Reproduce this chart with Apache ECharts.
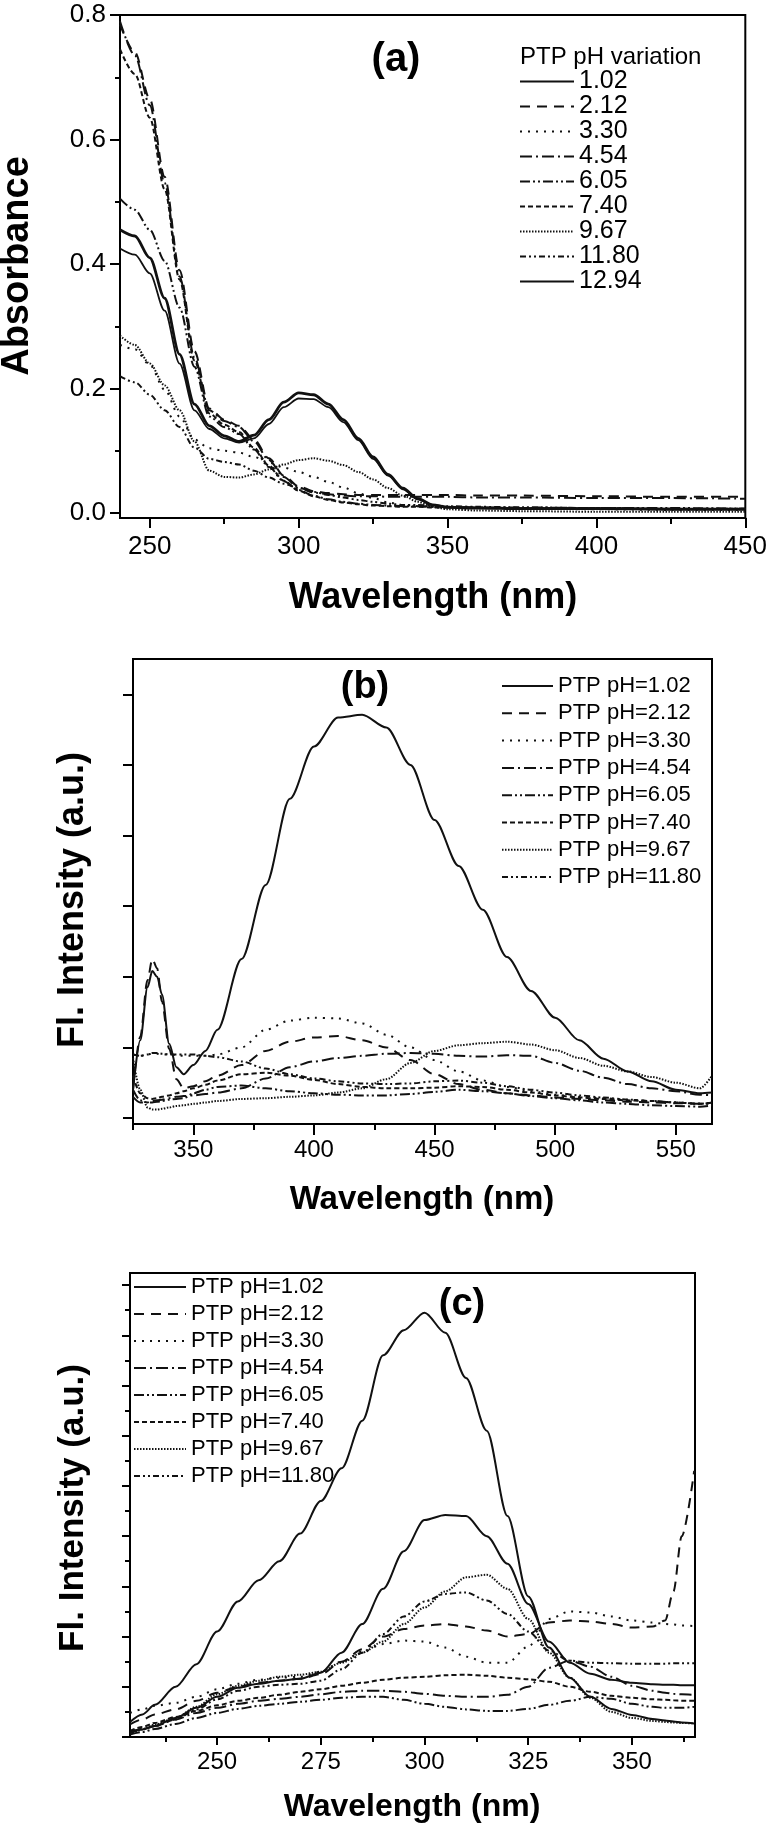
<!DOCTYPE html>
<html>
<head>
<meta charset="utf-8">
<script src="https://cdn.jsdelivr.net/npm/echarts@6/dist/echarts.min.js"></script>
<style>
html,body{margin:0;padding:0;background:#fff;}
#main{width:770px;height:1833px;}
</style>
</head>
<body>
<div id="main"></div>
<script>
// (a) absorbance vs wavelength, PTP at different pH
var aWave = [240,245,250,255,260,265,270,275,280,285,290,295,300,305,310,315,320,325,330,335,340,345,350,360,375,400,425,450];
var a102  = [0.455,0.445,0.41,0.345,0.255,0.175,0.14,0.124,0.115,0.125,0.15,0.178,0.193,0.19,0.175,0.15,0.12,0.09,0.062,0.04,0.023,0.013,0.009,0.008,0.007,0.007,0.006,0.006];
var a212  = [0.785,0.74,0.665,0.54,0.39,0.26,0.168,0.15,0.14,0.118,0.088,0.06,0.043,0.035,0.032,0.03,0.029,0.029,0.029,0.029,0.029,0.029,0.029,0.028,0.028,0.027,0.026,0.026];
var a330  = [0.27,0.263,0.238,0.198,0.155,0.118,0.104,0.1,0.097,0.09,0.081,0.073,0.066,0.058,0.05,0.041,0.032,0.024,0.017,0.013,0.011,0.01,0.009,0.008,0.007,0.006,0.005,0.005];
var a454  = [0.79,0.735,0.655,0.53,0.38,0.25,0.165,0.148,0.138,0.115,0.085,0.058,0.041,0.033,0.03,0.028,0.027,0.027,0.026,0.026,0.026,0.026,0.026,0.025,0.025,0.024,0.024,0.023];
var a605  = [0.505,0.487,0.455,0.405,0.33,0.235,0.155,0.138,0.127,0.102,0.074,0.051,0.037,0.028,0.022,0.018,0.015,0.013,0.012,0.011,0.011,0.01,0.01,0.009,0.009,0.008,0.008,0.007];
var a740  = [0.745,0.705,0.635,0.52,0.375,0.245,0.16,0.142,0.13,0.105,0.076,0.052,0.036,0.027,0.021,0.017,0.014,0.012,0.011,0.01,0.01,0.009,0.009,0.008,0.008,0.007,0.006,0.006];
var a967  = [0.285,0.27,0.24,0.205,0.165,0.115,0.068,0.058,0.057,0.062,0.07,0.078,0.085,0.088,0.084,0.077,0.066,0.054,0.04,0.028,0.018,0.01,0.006,0.004,0.003,0.002,0.002,0.002];
var a1180 = [0.22,0.21,0.19,0.165,0.138,0.105,0.087,0.082,0.078,0.068,0.057,0.047,0.04,0.034,0.029,0.025,0.021,0.018,0.015,0.013,0.013,0.012,0.011,0.01,0.009,0.008,0.007,0.007];
var a1294 = [0.425,0.415,0.385,0.325,0.24,0.165,0.135,0.12,0.113,0.12,0.143,0.17,0.184,0.183,0.17,0.146,0.117,0.087,0.06,0.038,0.022,0.013,0.01,0.009,0.008,0.008,0.007,0.007];
var aNames = ['1.02','2.12','3.30','4.54','6.05','7.40','9.67','11.80','12.94'];
var aXMajor = [250,300,350,400,450];
var aXMinor = [275,325,375,425];
var aYMajor = [0,0.2,0.4,0.6,0.8];
var aYMinor = [0.1,0.3,0.5,0.7];

// (b) fluorescence, excitation 1
var bWave = [325,328,331,333,335,337,340,343,346,350,355,360,370,380,390,400,410,420,430,440,450,460,470,480,490,500,510,520,530,540,550,560,565];
var b102  = [40,110,185,208,200,175,105,72,62,75,95,125,225,330,452,526,567,571,553,500,422,357,295,228,180,142,110,84,66,52,40,35,36];
var b212  = [40,115,195,225,212,165,98,55,42,45,52,60,75,95,108,114,116,110,100,82,62,48,40,35,32,29,27,25,23,22,21,20,22];
var b330  = [90,88,90,91,91,90,90,89,88,88,88,90,100,125,138,142,141,134,118,100,82,66,53,44,38,33,30,28,26,24,22,20,20];
var b454  = [30,22,22,24,25,26,28,30,31,32,34,36,42,56,72,80,85,88,91,92,91,88,87,89,88,78,67,57,48,42,38,33,32];
var b605  = [40,25,22,22,23,24,26,27,28,35,40,44,46,42,38,35,33,32,32,34,37,40,38,35,31,28,25,22,20,18,17,16,18];
var b740  = [60,35,28,27,28,30,32,35,38,42,47,53,62,64,60,54,48,44,42,42,43,45,44,40,36,32,29,27,25,24,22,20,22];
var b967  = [85,40,15,12,12,13,15,17,18,20,22,24,27,28,30,32,36,42,55,78,95,103,106,108,104,96,85,74,66,58,50,42,60];
var b1180 = [90,88,90,92,92,91,90,90,90,90,88,86,80,70,62,56,52,49,48,49,52,53,50,45,40,36,32,29,26,24,22,20,22];
var bNames = ['PTP pH=1.02','PTP pH=2.12','PTP pH=3.30','PTP pH=4.54','PTP pH=6.05','PTP pH=7.40','PTP pH=9.67','PTP pH=11.80'];
var bXMajor = [350,400,450,500,550];
var bXMinor = [325,375,425,475,525];
var bYTicks = [0,100,200,300,400,500,600];

// (c) fluorescence, excitation 2
var cWave = [229,232,235,240,245,250,255,260,265,270,275,280,285,290,295,300,305,310,315,320,325,330,335,340,345,350,355,358,360,362,365];
var c102  = [30,45,64,100,145,210,270,312,350,405,470,535,630,760,810,845,805,715,610,440,280,178,118,80,56,44,36,33,31,29,27];
var c212  = [25,35,45,55,72,88,100,108,112,116,125,150,175,200,215,222,225,220,212,200,205,228,232,230,225,218,220,232,290,400,530];
var c330  = [48,55,62,68,80,95,106,114,118,120,130,150,170,185,192,190,178,160,148,148,180,235,250,248,240,232,228,225,224,222,221];
var c454  = [10,16,22,35,48,58,66,72,76,80,85,90,92,92,90,86,82,80,80,84,100,138,152,140,120,102,92,88,86,85,84];
var c605  = [5,10,16,26,38,48,56,62,66,70,74,78,80,80,74,66,60,55,52,52,56,64,72,80,76,66,60,58,58,58,60];
var c740  = [12,20,28,40,52,63,72,78,84,90,95,102,108,114,118,120,123,124,122,118,115,110,100,90,82,78,75,74,73,72,72];
var c967  = [5,15,25,38,60,85,102,112,120,124,130,148,168,190,225,258,290,318,323,295,235,168,118,78,50,38,32,30,29,28,27];
var c1180 = [10,16,22,35,55,75,92,100,104,106,112,135,168,205,240,270,285,288,272,245,210,172,152,148,147,146,146,146,147,147,147];
var c1294 = [8,15,22,38,58,80,98,106,112,116,128,168,225,295,370,432,442,440,400,345,265,190,148,126,114,108,105,104,104,103,103];
var cXMajor = [250,275,300,325,350];
var cXMinor = [237.5,262.5,287.5,312.5,337.5,362.5];
var cYMajor = [0,100,200,300,400,500,600,700,800,900];
var cYMinor = [50,150,250,350,450,550,650,750,850];

var FONT = '"Liberation Sans", Arial, sans-serif';
var INK = '#111';

// line patterns, one per pH
var DASH = {
    solid: 'solid',
    dashed: [10, 7],
    dotted: [2, 6],
    dashdot: [12, 4, 2, 4],
    dashdotdot: [10, 3, 2, 3, 2, 3],
    shortdash: [5, 3],
    finedot: [1.5, 1.5],
    dashdotdot2: [6, 3, 2, 3, 2, 3]
};

function pairs(xs, ys) {
    var out = [];
    for (var i = 0; i < xs.length; i++) {
        out.push([xs[i], ys[i]]);
    }
    return out;
}

function line(name, panel, xs, ys, dash, width) {
    return {
        name: name,
        type: 'line',
        xAxisIndex: panel * 2,
        yAxisIndex: panel * 2,
        data: pairs(xs, ys),
        symbol: 'none',
        smooth: 0.3,
        smoothMonotone: 'x',
        lineStyle: {color: INK, width: width || 2, type: dash},
        itemStyle: {color: INK},
        emphasis: {disabled: true}
    };
}

function xAxes(grid, min, max, major, minor, fs, margin, majLen, minLen) {
    return [{
        type: 'value', gridIndex: grid, min: min, max: max, position: 'bottom',
        axisLine: {onZero: false, lineStyle: {color: '#000', width: 2}},
        axisTick: {customValues: major, length: majLen, lineStyle: {color: '#000', width: 2}},
        axisLabel: {customValues: major, color: '#000', fontSize: fs, fontFamily: FONT, margin: margin},
        splitLine: {show: false}
    }, {
        type: 'value', gridIndex: grid, min: min, max: max, position: 'bottom',
        axisLine: {show: false, onZero: false},
        axisTick: {customValues: minor, length: minLen, lineStyle: {color: '#000', width: 2}},
        axisLabel: {show: false},
        splitLine: {show: false}
    }];
}

function yAxes(grid, min, max, major, minor, labels, fs, margin, majLen, minLen) {
    var main = {
        type: 'value', gridIndex: grid, min: min, max: max, position: 'left',
        axisLine: {onZero: false, lineStyle: {color: '#000', width: 2}},
        axisTick: {customValues: major, length: majLen, lineStyle: {color: '#000', width: 2}},
        axisLabel: labels ? {customValues: major, color: '#000', fontSize: fs, fontFamily: FONT, margin: margin,
            formatter: function (v) { return v.toFixed(1); }} : {show: false},
        splitLine: {show: false}
    };
    var sub = {
        type: 'value', gridIndex: grid, min: min, max: max, position: 'left',
        axisLine: {show: false, onZero: false},
        axisTick: minor ? {customValues: minor, length: minLen, lineStyle: {color: '#000', width: 2}} : {show: false},
        axisLabel: {show: false},
        splitLine: {show: false}
    };
    return [main, sub];
}

function legend(names, left, top, w, fs, gap) {
    return {
        data: names, orient: 'vertical', left: left, top: top, padding: 0,
        itemWidth: w, itemHeight: 12, itemGap: gap, selectedMode: false,
        itemStyle: {opacity: 0, borderWidth: 0},
        textStyle: {color: '#000', fontSize: fs, fontFamily: FONT, lineHeight: fs}
    };
}

function txt(s, x, y, font, rot, align) {
    return {
        type: 'text', x: x, y: y, rotation: rot || 0, silent: true,
        style: {
            text: s, font: font, fill: '#000',
            align: align || 'center', verticalAlign: 'middle',
            textAlign: align || 'center', textVerticalAlign: 'middle'
        }
    };
}

var series = [
    line('1.02', 0, aWave, a102, DASH.solid, 2.8),
    line('2.12', 0, aWave, a212, DASH.dashed),
    line('3.30', 0, aWave, a330, DASH.dotted),
    line('4.54', 0, aWave, a454, DASH.dashdot),
    line('6.05', 0, aWave, a605, DASH.dashdotdot),
    line('7.40', 0, aWave, a740, DASH.shortdash),
    line('9.67', 0, aWave, a967, DASH.finedot),
    line('11.80', 0, aWave, a1180, DASH.dashdotdot2),
    line('12.94', 0, aWave, a1294, DASH.solid, 1.8),

    line(bNames[0], 1, bWave, b102, DASH.solid),
    line(bNames[1], 1, bWave, b212, DASH.dashed),
    line(bNames[2], 1, bWave, b330, DASH.dotted),
    line(bNames[3], 1, bWave, b454, DASH.dashdot),
    line(bNames[4], 1, bWave, b605, DASH.dashdotdot),
    line(bNames[5], 1, bWave, b740, DASH.shortdash),
    line(bNames[6], 1, bWave, b967, DASH.finedot),
    line(bNames[7], 1, bWave, b1180, DASH.dashdotdot2),

    line(bNames[0], 2, cWave, c102, DASH.solid),
    line(bNames[1], 2, cWave, c212, DASH.dashed),
    line(bNames[2], 2, cWave, c330, DASH.dotted),
    line(bNames[3], 2, cWave, c454, DASH.dashdot),
    line(bNames[4], 2, cWave, c605, DASH.dashdotdot),
    line(bNames[5], 2, cWave, c740, DASH.shortdash),
    line(bNames[6], 2, cWave, c967, DASH.finedot),
    line(bNames[7], 2, cWave, c1180, DASH.dashdotdot2),
    line('PTP pH=12.94', 2, cWave, c1294, DASH.solid)
];

var gridStyle = {show: true, borderColor: '#000', borderWidth: 2, backgroundColor: 'transparent'};

var option = {
    animation: false,
    backgroundColor: '#fff',
    grid: [
        Object.assign({left: 120, top: 15, width: 626, height: 503}, gridStyle),
        Object.assign({left: 133, top: 659, width: 579, height: 465}, gridStyle),
        Object.assign({left: 130, top: 1273, width: 565, height: 464}, gridStyle)
    ],
    xAxis: [].concat(
        xAxes(0, 240, 450, aXMajor, aXMinor, 26, 16, 10, 6),
        xAxes(1, 325, 565, bXMajor, bXMinor, 24, 14, 11, 6),
        xAxes(2, 229, 365.2, cXMajor, cXMinor, 24, 13, 8, 5)
    ),
    yAxis: [].concat(
        yAxes(0, -0.008, 0.8, aYMajor, aYMinor, true, 26, 14, 10, 5),
        yAxes(1, -8.5, 650, bYTicks, null, false, 0, 0, 10, 0),
        yAxes(2, 0, 924, cYMajor, cYMinor, false, 0, 0, 8, 5)
    ),
    legend: [
        legend(aNames, 519, 69, 54, 25, 0),
        legend(bNames, 501, 675, 51, 22, 5.3),
        legend(bNames, 133, 1276, 52, 22, 5)
    ],
    graphic: {elements: [
        txt('(a)', 396, 60, 'bold 40px ' + FONT),
        txt('PTP pH variation', 520, 57, '24px ' + FONT, 0, 'left'),
        txt('Absorbance', 18, 266, 'bold 38px ' + FONT, Math.PI / 2),
        txt('Wavelength (nm)', 433, 598, 'bold 36px ' + FONT),
        txt('(b)', 365, 688, 'bold 38px ' + FONT),
        txt('Fl. Intensity (a.u.)', 73, 900, 'bold 36px ' + FONT, Math.PI / 2),
        txt('Wavelength (nm)', 422, 1200, 'bold 33px ' + FONT),
        txt('(c)', 462, 1305, 'bold 38px ' + FONT),
        txt('Fl. Intensity (a.u.)', 73, 1508, 'bold 35px ' + FONT, Math.PI / 2),
        txt('Wavelength (nm)', 412, 1807, 'bold 32px ' + FONT)
    ]},
    series: series
};

var myChart = echarts.init(document.getElementById('main'), null, {renderer: 'canvas'});
myChart.setOption(option);
</script>
</body>
</html>
